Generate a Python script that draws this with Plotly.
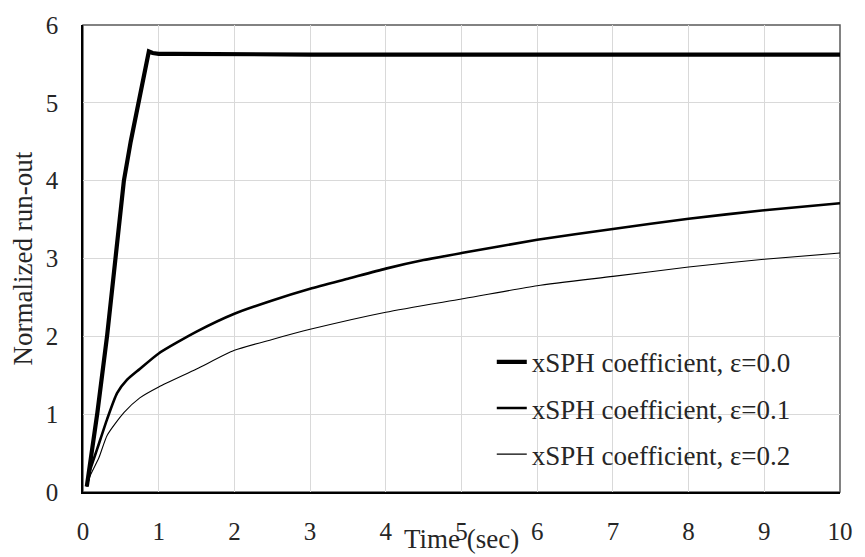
import plotly.graph_objects as go

# Time axis samples (s) and normalized run-out for each xSPH coefficient
t_eps00 = [0.05, 0.12, 0.19, 0.32, 0.43, 0.54, 0.63, 0.73, 0.80, 0.85, 0.87, 0.92,
           1.0, 1.2, 2, 3, 4, 5, 6, 7, 8, 9, 10]
r_eps00 = [0.07, 0.55, 1.02, 2.02, 3.0, 4.0, 4.5, 5.0, 5.35, 5.62, 5.66, 5.64,
           5.63, 5.63, 5.62, 5.62, 5.62, 5.62, 5.62, 5.62, 5.62, 5.62, 5.62]

t_eps01 = [0.05, 0.1, 0.19, 0.32, 0.45, 0.58, 0.75, 1.0, 1.5, 2, 2.5, 3, 3.5,
           4, 4.5, 5, 6, 7, 8, 9, 10]
r_eps01 = [0.07, 0.3, 0.56, 0.94, 1.27, 1.44, 1.58, 1.78, 2.06, 2.29, 2.46, 2.61,
           2.74, 2.87, 2.98, 3.07, 3.24, 3.38, 3.51, 3.62, 3.71]

t_eps02 = [0.05, 0.1, 0.21, 0.32, 0.54, 0.75, 1.0, 1.5, 2, 2.5, 3, 4, 5, 6, 7,
           8, 9, 10]
r_eps02 = [0.07, 0.22, 0.44, 0.73, 1.02, 1.21, 1.35, 1.58, 1.82, 1.96, 2.09,
           2.31, 2.48, 2.65, 2.77, 2.89, 2.99, 3.07]

series_names = ["xSPH coefficient, ε=0.0",
                "xSPH coefficient, ε=0.1",
                "xSPH coefficient, ε=0.2"]

x_ticks = list(range(0, 11))
y_ticks = list(range(0, 7))

FONT = "Times New Roman"
TEXT = "#262626"

fig = go.Figure()
series = [
    (t_eps00, r_eps00, 4.2, "linear"),
    (t_eps01, r_eps01, 2.6, "spline"),
    (t_eps02, r_eps02, 1.1, "spline"),
]
for i, ((t, r, w, shp), name) in enumerate(zip(series, series_names)):
    line = dict(color="black", width=w, shape=shp)
    if shp == "spline":
        line["smoothing"] = 0.6
    fig.add_trace(go.Scatter(
        x=t, y=r, mode="lines", name=name, line=line,
        legendgroup=f"g{i}",
    ))

fig.update_layout(
    width=865, height=557,
    margin=dict(l=83, r=15, t=15, b=62),
    paper_bgcolor="white", plot_bgcolor="white",
    font=dict(family=FONT, size=25, color=TEXT),
    showlegend=True,
    legend=dict(
        x=0.54, y=0.33, xanchor="left", yanchor="top",
        bgcolor="rgba(255,255,255,0)", borderwidth=0,
        font=dict(family=FONT, size=27, color=TEXT),
        traceorder="grouped", tracegroupgap=8,
    ),
    xaxis=dict(
        range=[0, 10], tickvals=x_ticks, ticktext=[str(v) for v in x_ticks],
        tickfont=dict(family=FONT, size=25, color=TEXT),
        showgrid=True, gridcolor="#d9d9d9", gridwidth=1,
        showline=True, linecolor="black", linewidth=1.5,
        zeroline=False, ticks="", ticklabelstandoff=16,
    ),
    yaxis=dict(
        range=[0, 6], tickvals=y_ticks, ticktext=[str(v) for v in y_ticks],
        tickfont=dict(family=FONT, size=25, color=TEXT),
        showgrid=True, gridcolor="#d9d9d9", gridwidth=1,
        showline=True, linecolor="black", linewidth=1.5,
        zeroline=False, ticks="", ticklabelstandoff=18,
    ),
    shapes=[dict(type="rect", xref="paper", yref="paper", x0=0, x1=1, y0=0, y1=1,
                 line=dict(color="#595959", width=1.5), layer="below")],
    annotations=[
        dict(text="Time (sec)", xref="paper", yref="paper", x=0.5, y=0,
             xanchor="center", yanchor="middle", yshift=-47, showarrow=False,
             font=dict(family=FONT, size=27, color=TEXT)),
        dict(text="Normalized run-out", xref="paper", yref="paper", x=0, y=0.5,
             xanchor="center", yanchor="middle", xshift=-61, textangle=-90,
             showarrow=False, font=dict(family=FONT, size=27, color=TEXT)),
    ],
)

fig.write_html("out.html")
